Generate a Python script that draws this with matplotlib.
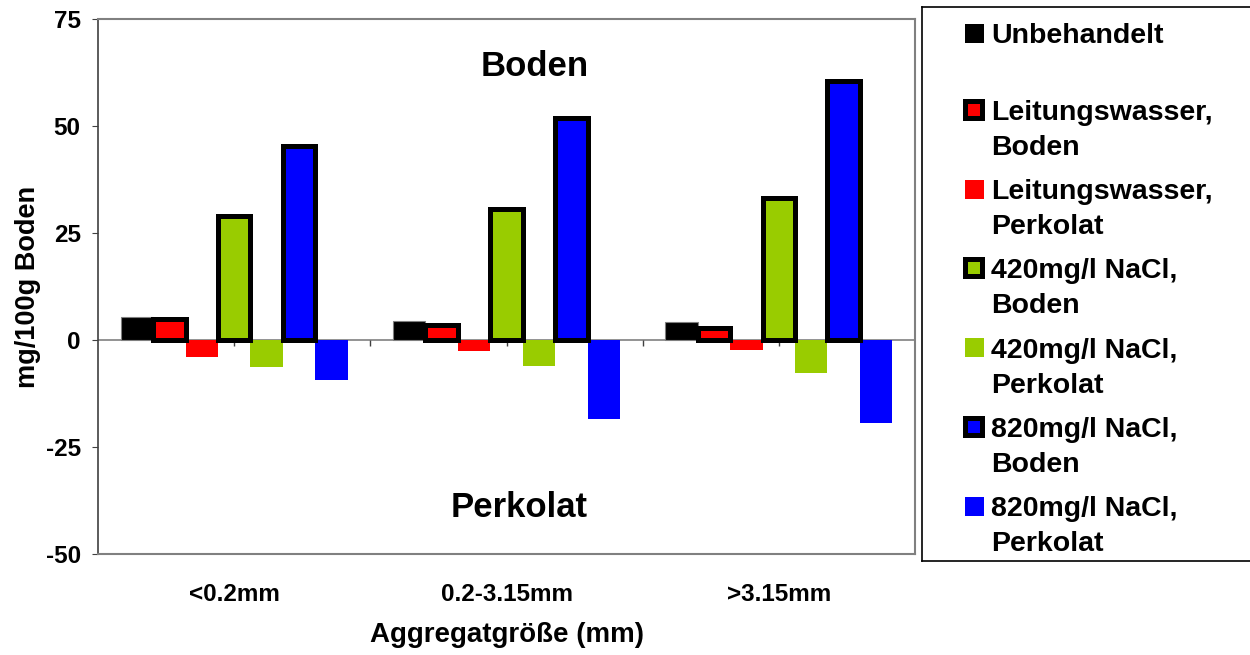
import matplotlib.pyplot as plt
import numpy as np
from matplotlib.patches import Rectangle

plt.rcParams['font.family'] = ['Liberation Sans', 'DejaVu Sans']
plt.rcParams['font.weight'] = 'bold'
plt.rcParams['axes.unicode_minus'] = False

# 데이터
categories = ["<0.2mm", "0.2-3.15mm", ">3.15mm"]
unbehandelt = [5.4, 4.4, 4.3]
leitung_boden = [5.0, 3.5, 2.8]
leitung_perkolat = [-4.0, -2.6, -2.4]
nacl420_boden = [29.0, 30.7, 33.1]
nacl420_perkolat = [-6.4, -6.1, -7.8]
nacl820_boden = [45.3, 51.9, 60.6]
nacl820_perkolat = [-9.4, -18.5, -19.3]

series = [unbehandelt, leitung_boden, leitung_perkolat, nacl420_boden,
          nacl420_perkolat, nacl820_boden, nacl820_perkolat]
labels = [["Unbehandelt"],
          ["Leitungswasser,", "Boden"], ["Leitungswasser,", "Perkolat"],
          ["420mg/l NaCl,", "Boden"], ["420mg/l NaCl,", "Perkolat"],
          ["820mg/l NaCl,", "Boden"], ["820mg/l NaCl,", "Perkolat"]]
colors = ["black", "#FF0000", "#FF0000", "#99CC00", "#99CC00", "#0000FF", "#0000FF"]
# Boden 시리즈는 굵은 검은 테두리
is_boden = [False, True, False, True, False, True, False]

fig = plt.figure(figsize=(12.5, 6.55), dpi=100)
ax = fig.add_axes([98 / 1250, (655 - 554) / 655, 817 / 1250, 535 / 655])

x = np.arange(len(categories))
width = 0.119
for i, values in enumerate(series):
    offset = (i - 3) * width
    if i == 0:
        ax.bar(x + offset, values, width, color=colors[i], edgecolor="#808080",
               linewidth=0.8, zorder=3)
    elif is_boden[i]:
        ax.bar(x + offset, values, width, color=colors[i], edgecolor="black",
               linewidth=3.6, zorder=4)
    else:
        ax.bar(x + offset, values, width, color=colors[i], linewidth=0, zorder=3)

ax.axhline(0, color="#808080", linewidth=1.2, zorder=2)
# 0 선 위의 작은 눈금
ax.vlines(np.concatenate([x, x[:-1] + 0.5]), -1.3, 0, color="#404040", linewidth=1, zorder=2)

ax.set_xlim(-0.5, len(categories) - 0.5)
ax.set_ylim(-50, 75)
ax.set_yticks([-50, -25, 0, 25, 50, 75])
ax.set_xticks(x)
ax.set_xticklabels(categories)
ax.tick_params(axis="x", length=0, pad=21, labelsize=17.5)
ax.tick_params(axis="y", length=4.5, pad=8, labelsize=17.5, color="#404040")

for side in ["top", "right", "bottom"]:
    ax.spines[side].set_color("#808080")
    ax.spines[side].set_linewidth(1.5)
ax.spines["left"].set_color("#404040")
ax.spines["left"].set_linewidth(1.2)

ax.set_ylabel("mg/100g Boden", fontsize=19.5, fontweight="bold")
ax.yaxis.set_label_coords(-0.07, 0.5)
ax.set_xlabel("Aggregatgröße (mm)", fontsize=20, fontweight="bold")
ax.xaxis.set_label_coords(0.5, -0.128)

ax.text(0.535, 0.912, "Boden", transform=ax.transAxes, fontsize=25,
        fontweight="bold", ha="center", va="center")
ax.text(0.516, 0.086, "Perkolat", transform=ax.transAxes, fontsize=25,
        fontweight="bold", ha="center", va="center")

# 범례는 픽셀 좌표계를 쓰는 별도 축에 직접 그린다
leg = fig.add_axes([922 / 1250, (655 - 561) / 655, (1250 - 922) / 1250, (561 - 7) / 655])
leg.set_xlim(922, 1250)
leg.set_ylim(561, 7)
leg.set_xticks([])
leg.set_yticks([])
for side in ["left", "top", "bottom"]:
    leg.spines[side].set_color("black")
    leg.spines[side].set_linewidth(1.2)
leg.spines["right"].set_visible(False)

row_y = [33] + [110 + 79.2 * k for k in range(6)]
for i in range(len(series)):
    yc = row_y[i]
    if is_boden[i]:
        leg.add_patch(Rectangle((963, yc - 11), 22, 22, facecolor="black", edgecolor="none"))
        leg.add_patch(Rectangle((968, yc - 6), 12, 12, facecolor=colors[i], edgecolor="none"))
    else:
        leg.add_patch(Rectangle((965, yc - 9.5), 19, 19, facecolor=colors[i], edgecolor="none"))
    for j, line in enumerate(labels[i]):
        leg.text(991, yc + 10 + 35 * j, line, fontsize=20.5, fontweight="bold",
                 ha="left", va="baseline")

fig.savefig("out.png", dpi=100)
